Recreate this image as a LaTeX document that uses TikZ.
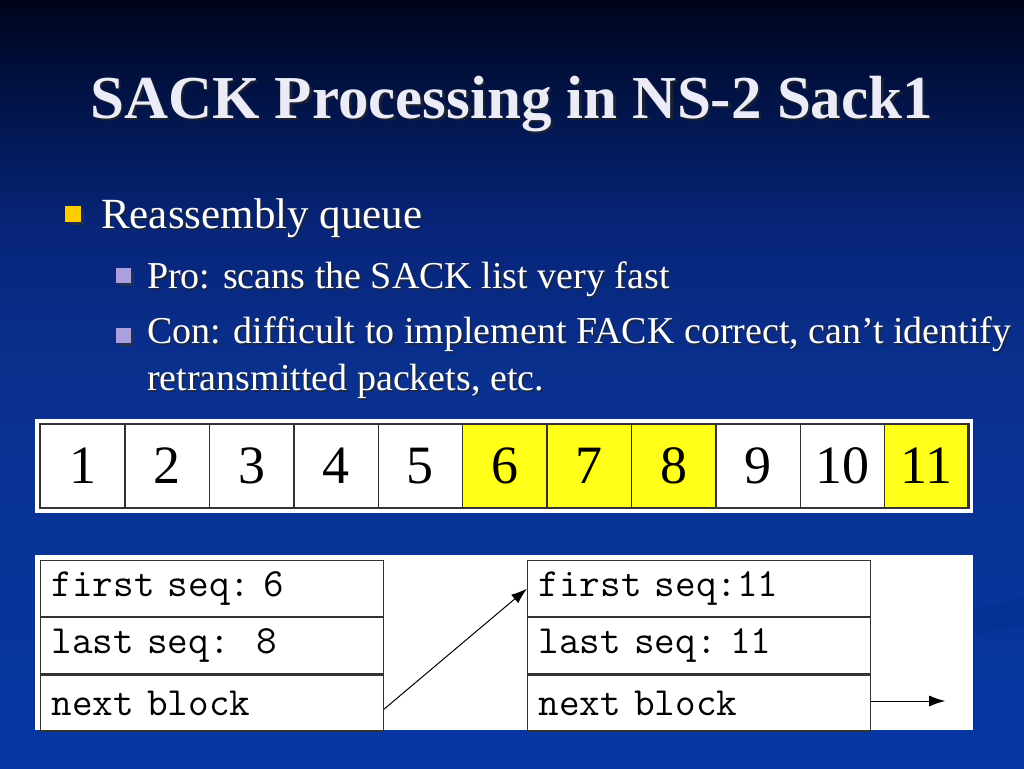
\documentclass[tikz,border=0pt]{standalone}
\usepackage{fontspec}
\setmainfont{Liberation Serif}
\usetikzlibrary{arrows.meta}
\definecolor{bgtop}{HTML}{00041A}
\definecolor{bgdark}{HTML}{000E38}
\definecolor{bgmidA}{HTML}{07257A}
\definecolor{bgmidB}{HTML}{0A3190}
\definecolor{bgbot}{HTML}{0536A3}
\definecolor{swoosh}{HTML}{04308F}
\definecolor{titlecol}{HTML}{ECECF8}
\definecolor{bulletY}{HTML}{FFCC00}
\definecolor{bulletP}{HTML}{AAA0E0}
\definecolor{cellY}{HTML}{FFFF1A}
\definecolor{framecol}{HTML}{333333}
\pgfdeclareverticalshading{slidebg}{100bp}{color(0bp)=(bgbot); color(25bp)=(bgbot); color(50bp)=(bgmidB); color(60bp)=(bgmidA); color(71bp)=(bgdark); color(75bp)=(bgtop); color(100bp)=(bgtop)}
\tikzset{
  titletext/.style={font=\fontsize{61}{70}\selectfont\bfseries, anchor=base west, inner sep=0pt},
  bodyA/.style={font=\fontsize{43}{50}\selectfont, anchor=base west, inner sep=0pt},
  bodyB/.style={font=\fontsize{38}{45}\selectfont, anchor=base west, inner sep=0pt},
  shadowtext/.style={text=black!85, opacity=0.75},
  frontext/.style={text=titlecol},
  sqY/.style={fill=bulletY, minimum size=16pt, inner sep=0pt, draw=none},
  sqP/.style={fill=bulletP, minimum size=15pt, inner sep=0pt, draw=none},
  sqshadow/.style={fill=black!80, minimum size=16pt, inner sep=0pt, opacity=0.7},
  numcell/.style={draw=framecol, line width=1.3pt, minimum width=84.4pt, minimum height=84pt, inner sep=0pt, anchor=west, font=\fontsize{54}{60}\selectfont, text=black},
  rowcell/.style={draw=framecol, line width=1.2pt, minimum width=343pt, minimum height=56pt, inner xsep=11pt, inner ysep=0pt, text width=321pt, align=left, anchor=north west, font=\fontsize{40}{44}\ttfamily\frenchspacing, text=black},
  link/.style={-{Latex[length=16pt,width=11pt]}, line width=1pt, black},
}
\begin{document}
\begin{tikzpicture}[x=1pt,y=-1pt]
\useasboundingbox (0,0) rectangle (1024,768);
% background
\shade[shading=slidebg] (0,768) rectangle (1024,0);
\fill[swoosh, opacity=0.6] (973,610) -- (1024,597) -- (1024,625) -- (973,634) -- cycle;
% title
\node[titletext, shadowtext] (titleS) at (92.5,120.5) {SACK Processing in NS-2 Sack1};
\node[titletext, frontext] (title) at (90,118) {SACK Processing in NS-2 Sack1};
% bullet 1
\node[sqshadow] (b1s) at (76,217) {};
\node[sqY] (b1) at (73,214) {};
\node[bodyA, shadowtext] (t1s) at (103,230) {Reassembly queue};
\node[bodyA, text=white] (t1) at (101,228) {Reassembly queue};
% sub bullets
\node[sqshadow, minimum size=15pt] (b2s) at (126,278) {};
\node[sqP] (b2) at (123,275) {};
\node[bodyB, shadowtext] (t2s) at (149,290) {Pro: scans the SACK list very fast};
\node[bodyB, text=white] (t2) at (147,288) {Pro: scans the SACK list very fast};
\node[sqshadow, minimum size=15pt] (b3s) at (126,338) {};
\node[sqP] (b3) at (123,335) {};
\node[bodyB, shadowtext] (t3s) at (149,345) {Con: difficult to implement FACK correct, can’t identify};
\node[bodyB, text=white] (t3) at (147,343) {Con: difficult to implement FACK correct, can’t identify};
\node[bodyB, shadowtext] (t4s) at (149,392) {retransmitted packets, etc.};
\node[bodyB, text=white] (t4) at (147,390) {retransmitted packets, etc.};
% number strip
\fill[white] (35,419) rectangle (973,513);
\foreach \i/\c in {1/white,2/white,3/white,4/white,5/white,6/cellY,7/cellY,8/cellY,9/white,10/white,11/cellY}{
  \node[numcell, fill=\c] (c\i) at ({40+84.4*(\i-1)},466) {\i};
}
\draw[framecol, line width=2pt] (40,424) rectangle (968,508);
% linked blocks
\fill[white] (35,555) rectangle (973,730);
\node[rowcell] (L1) at (40,560) {first seq: 6};
\node[rowcell] (L2) at (L1.south west) {last seq:\ \ 8};
\node[rowcell] (L3) at (L2.south west) {next block};
\node[rowcell] (R1) at (527,560) {first seq:11};
\node[rowcell] (R2) at (R1.south west) {last seq: 11};
\node[rowcell] (R3) at (R2.south west) {next block};
\coordinate (endR) at ([xshift=74pt,yshift=2pt]R3.east);
\draw[link] ([yshift=-6pt]L3.east) -- (R1.west);
\draw[link] ([yshift=2pt]R3.east) -- (endR);
\end{tikzpicture}
\end{document}
